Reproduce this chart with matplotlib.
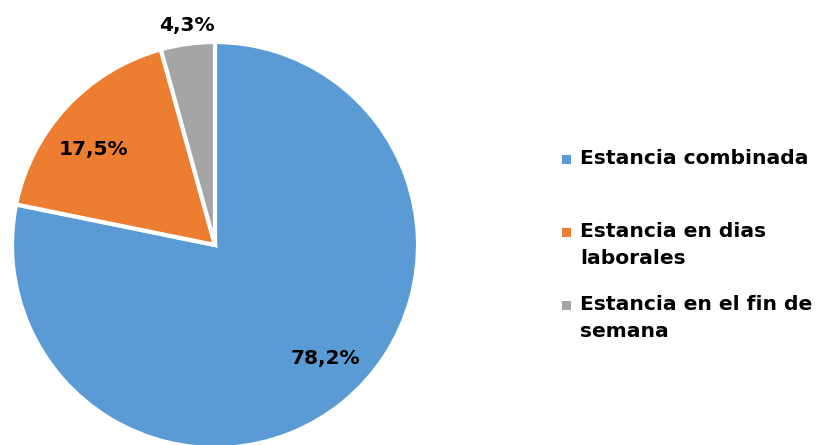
import matplotlib.pyplot as plt
import numpy as np
from matplotlib.patches import Rectangle

# datos
categorias = ['Estancia combinada', 'Estancia en dias\nlaborales', 'Estancia en el fin de\nsemana']
valores = [78.2, 17.5, 4.3]
colores = ['#5B9BD5', '#ED7D31', '#A5A5A5']
distancias = [0.78, 0.76, 1.09]
desfase = [4.8, 4.8, -0.4]   # ajuste de ángulo de las etiquetas (grados)


def main() -> None:
    fig = plt.figure(figsize=(8.19, 4.45), dpi=100)
    W, H = 819, 445
    cx, cy, r = 215, 245, 203
    ax = fig.add_axes([(cx - r) / W, (H - cy - r) / H, 2 * r / W, 2 * r / H])
    wedges, _ = ax.pie(valores, colors=colores, startangle=90, counterclock=False,
                       radius=1.0, wedgeprops=dict(edgecolor='white', linewidth=3))
    ax.set_xlim(-1, 1)
    ax.set_ylim(-1, 1)
    ax.set_aspect('equal')
    ax.axis('off')

    # etiquetas de porcentaje
    for w, v, d, da in zip(wedges, valores, distancias, desfase):
        ang = np.deg2rad((w.theta1 + w.theta2) / 2 + da)
        ax.text(d * np.cos(ang), d * np.sin(ang), f'{v:.1f}%'.replace('.', ','),
                ha='center', va='center', fontsize=14.5, fontweight='bold',
                family='DejaVu Sans', color='black')

    # leyenda
    ys = [160, 233, 306]
    for lab, c, y in zip(categorias, colores, ys):
        fig.patches.append(Rectangle((562 / W, (H - y - 4) / H), 9 / W, 9 / H,
                                     transform=fig.transFigure, facecolor=c,
                                     edgecolor='none'))
        fig.text(580 / W, (H - y + 11) / H, lab, ha='left', va='top', fontsize=14.6,
                 fontweight='bold', family='DejaVu Sans', linespacing=1.52,
                 transform=fig.transFigure)

    fig.savefig('out.png', dpi=100)


if __name__ == "__main__":
    main()
